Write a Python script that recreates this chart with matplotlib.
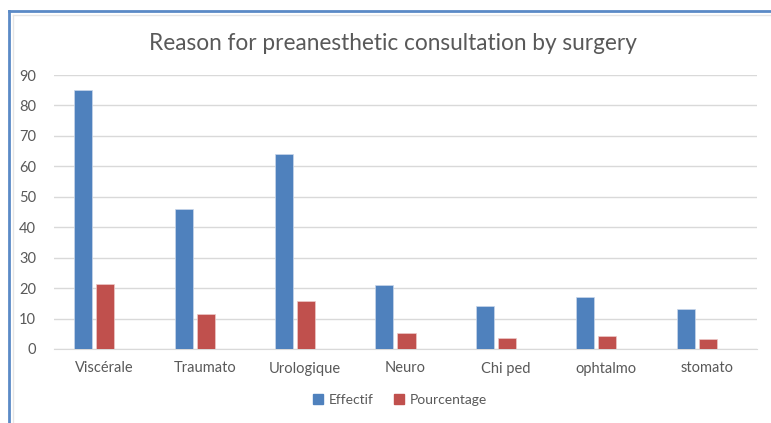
import matplotlib
matplotlib.use("Agg")
import matplotlib.pyplot as plt
from matplotlib.lines import Line2D
from matplotlib.patches import Patch
import numpy as np

categories = ["Viscérale", "Traumato", "Urologique", "Neuro", "Chi ped", "ophtalmo", "stomato"]
effectif = [85, 46, 64, 21, 14, 17, 13]
pourcentage = [21.3, 11.5, 15.9, 5.3, 3.5, 4.3, 3.3]
yticks = [0, 10, 20, 30, 40, 50, 60, 70, 80, 90]
title = "Reason for preanesthetic consultation by surgery"

plt.rcParams['font.family'] = ['Lato', 'DejaVu Sans']
W, H = 771, 423
fig = plt.figure(figsize=(W / 100, H / 100), dpi=100)
ax = fig.add_axes([54 / W, 1 - 349 / H, (757 - 54) / W, (349 - 75) / H])

x = np.arange(len(categories))
bw = 0.18
ax.bar(x - 0.21, effectif, width=bw, color="#4F81BD", edgecolor="#c9d7ea", linewidth=0.5, zorder=3)
ax.bar(x + 0.01, pourcentage, width=bw, color="#C0504D", edgecolor="#ecc9c8", linewidth=0.5, zorder=3)

ax.set_xlim(-0.5, len(categories) - 0.5)
ax.set_ylim(0, 90)
ax.set_yticks(yticks)
ax.set_xticks(x)
ax.set_xticklabels(categories)
ax.grid(axis="y", color="#d9d9d9", linewidth=1, zorder=0)
for s in ["top", "right", "left"]:
    ax.spines[s].set_visible(False)
ax.spines["bottom"].set_color("#d9d9d9")
ax.tick_params(axis="both", length=0, colors="#595959", labelsize=10.5)
ax.tick_params(axis="y", pad=13)
ax.tick_params(axis="x", pad=9)

fig.text(393 / W, 1 - 44 / H, title, ha="center", va="center", fontsize=16.3, color="#595959")

handles = [Patch(color="#4F81BD", label="Effectif"), Patch(color="#C0504D", label="Pourcentage")]
leg = fig.legend(handles=handles, loc="center", bbox_to_anchor=(400 / W, 1 - 400 / H), ncol=2,
                 frameon=False, fontsize=10, handlelength=0.7, handleheight=0.7,
                 handletextpad=0.4, columnspacing=1.5)
for t in leg.get_texts():
    t.set_color("#595959")

# outer frame
fig.add_artist(Line2D([9 / W, 9 / W], [0, 1 - 11 / H], color="#5b8ac6", linewidth=2, transform=fig.transFigure))
fig.add_artist(Line2D([9 / W, 1], [1 - 11 / H, 1 - 11 / H], color="#5b8ac6", linewidth=2, transform=fig.transFigure))
fig.add_artist(Line2D([13 / W, 13 / W], [0, 1 - 15 / H], color="#e6e6e6", linewidth=1, transform=fig.transFigure))
fig.add_artist(Line2D([13 / W, 1], [1 - 15 / H, 1 - 15 / H], color="#e6e6e6", linewidth=1, transform=fig.transFigure))

fig.savefig("out.png", dpi=100)
